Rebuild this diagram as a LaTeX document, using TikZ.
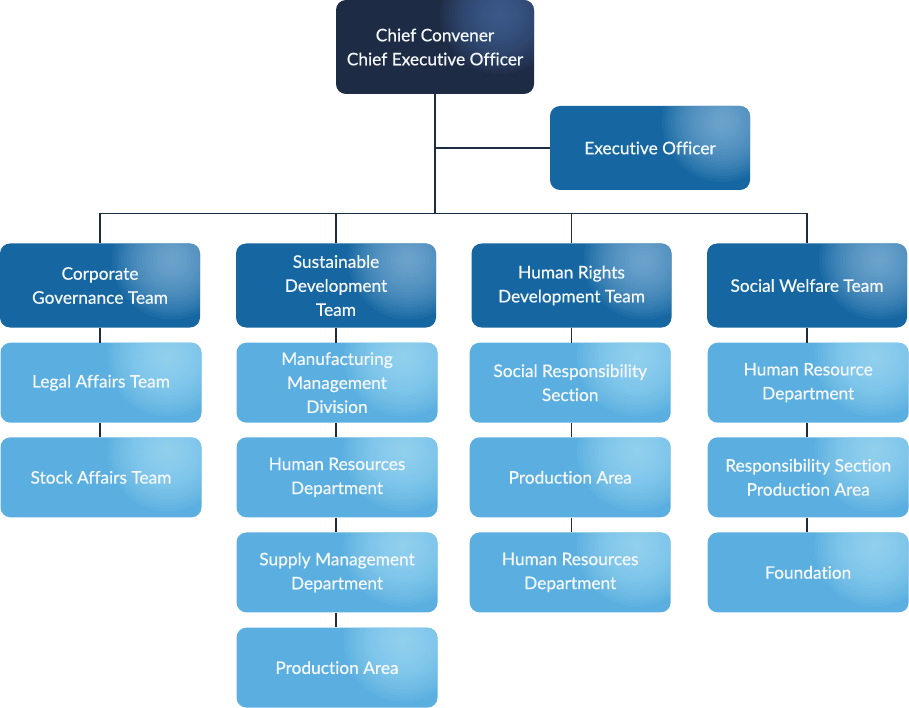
\documentclass[tikz,border=0pt]{standalone}
\usepackage{fontspec}
\setmainfont{Lato}[Ligatures=CommonOff, RawFeature={embolden=0.6}]
\definecolor{navy}{HTML}{1E2B45}
\definecolor{navyhl}{HTML}{4A6EA6}
\definecolor{dblue}{HTML}{1566A1}
\definecolor{dbluehl}{HTML}{8CBCE0}
\definecolor{lblue}{HTML}{5AAFE0}
\definecolor{lbluehl}{HTML}{A8E2FA}
\definecolor{txt}{HTML}{F4F8FC}
\tikzset{
  glow/.style n args={3}{path picture={
      \foreach \r in {3,6,...,60}
        \fill[#1, opacity=0.07]
          ([xshift=-#2pt,yshift=-#3pt]path picture bounding box.north east) circle (\r pt);}},
  basebox/.style={rounded corners=10pt, inner sep=0pt, align=center, text=txt,
    font=\fontsize{17.3}{24}\selectfont},
  topbox/.style={basebox, fill=navy, minimum width=198pt, minimum height=94pt,
    glow={navyhl}{34}{14}},
  headbox/.style={basebox, fill=dblue, minimum width=200pt, minimum height=84pt,
    glow={dbluehl}{28}{16}},
  leafbox/.style={basebox, fill=lblue, minimum width=201pt, minimum height=80pt,
    glow={lbluehl}{34}{14}},
  link/.style={draw=navy, line width=1.3pt}
}
\begin{document}
\begin{tikzpicture}[x=1pt,y=-1pt]
\useasboundingbox (0,0) rectangle (909,708);
% top
\node[topbox] (top) at (435,47) {Chief Convener\\Chief Executive Officer};
\node[headbox] (exec) at (650,148) {Executive Officer};
% heads
\node[headbox] (h1) at (100,285.5) {Corporate\\Governance Team};
\node[headbox] (h2) at (336,285.5) {Sustainable\\Development\\Team};
\node[headbox] (h3) at (571.5,285.5) {Human Rights\\Development Team};
\node[headbox] (h4) at (807,285.5) {Social Welfare Team};
% column 1
\node[leafbox] (a1) at (101,382.7) {Legal Affairs Team};
\node[leafbox] (a2) at (101,477.3) {Stock Affairs Team};
% column 2
\node[leafbox] (b1) at (337,382.7) {Manufacturing\\Management\\Division};
\node[leafbox] (b2) at (337,477.3) {Human Resources\\Department};
\node[leafbox] (b3) at (337,572.4) {Supply Management\\Department};
\node[leafbox] (b4) at (337,667.6) {Production Area};
% column 3
\node[leafbox] (c1) at (570.2,382.7) {Social Responsibility\\Section};
\node[leafbox] (c2) at (570.2,477.3) {Production Area};
\node[leafbox] (c3) at (570.2,572.4) {Human Resources\\Department};
% column 4
\node[leafbox] (d1) at (808.2,382.7) {Human Resource\\Department};
\node[leafbox] (d2) at (808.2,477.3) {Responsibility Section\\Production Area};
\node[leafbox] (d3) at (808.2,572.4) {Foundation};
% connectors
\coordinate (bar) at (435.7,213.3);
\draw[link] (top.south) -- (top.south |- bar);
\draw[link] (exec.west) -- (exec.west -| top.south);
\draw[link] (h1.north) -- (h1.north |- bar) -- (h4.north |- bar) -- (h4.north);
\draw[link] (h2.north) -- (h2.north |- bar);
\draw[link] (h3.north) -- (h3.north |- bar);
\draw[link] (h1.south) -- (h1.south |- a1.north);
\draw[link] (h1.south |- a1.south) -- (h1.south |- a2.north);
\draw[link] (h2.south) -- (h2.south |- b1.north);
\draw[link] (h2.south |- b1.south) -- (h2.south |- b2.north);
\draw[link] (h2.south |- b2.south) -- (h2.south |- b3.north);
\draw[link] (h2.south |- b3.south) -- (h2.south |- b4.north);
\draw[link] (h3.south) -- (h3.south |- c1.north);
\draw[link] (h3.south |- c1.south) -- (h3.south |- c2.north);
\draw[link] (h3.south |- c2.south) -- (h3.south |- c3.north);
\draw[link] (h4.south) -- (h4.south |- d1.north);
\draw[link] (h4.south |- d1.south) -- (h4.south |- d2.north);
\draw[link] (h4.south |- d2.south) -- (h4.south |- d3.north);
\end{tikzpicture}
\end{document}
